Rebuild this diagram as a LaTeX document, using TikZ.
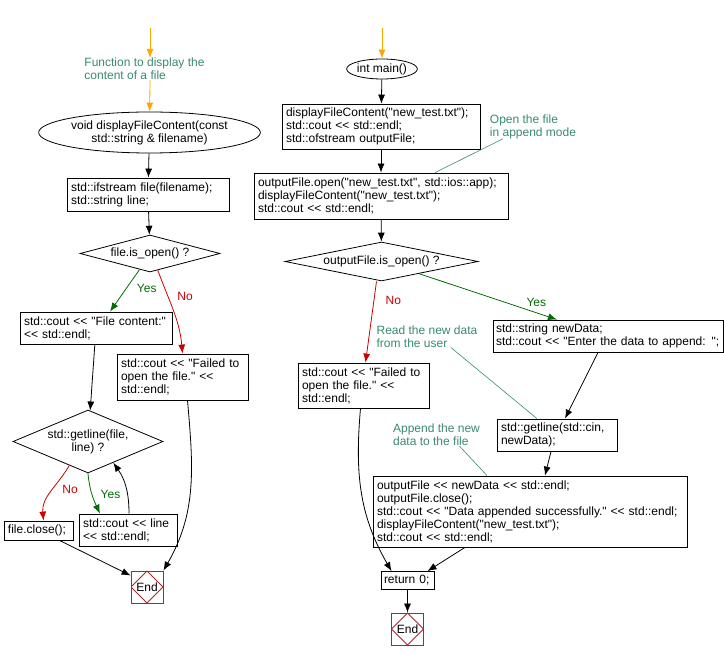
\documentclass[tikz,border=0pt]{standalone}
\usepackage{fontspec}
\newfontfamily\codefont{Liberation Sans}
\usetikzlibrary{shapes.geometric,arrows.meta}
\definecolor{notegreen}{RGB}{58,138,106}
\definecolor{yesgreen}{RGB}{0,110,0}
\definecolor{nored}{RGB}{204,0,0}
\definecolor{endred}{RGB}{165,42,42}
\definecolor{entryorange}{RGB}{255,165,0}

\begin{document}
\begin{tikzpicture}[x=1pt, y=-1pt, font=\codefont\fontsize{12}{13}\selectfont,
    proc/.style={draw, rectangle, line width=0.8pt, align=left, inner xsep=4pt, inner ysep=0pt},
    dec/.style={draw, diamond, line width=0.8pt, align=center, inner sep=0pt},
    term/.style={draw, ellipse, line width=0.8pt, align=center, inner sep=0pt},
    endbox/.style={draw=endred, rectangle, line width=0.8pt, minimum size=32pt, inner sep=0pt,
        path picture={\draw[endred, line width=0.8pt] (path picture bounding box.north) -- (path picture bounding box.east)
            -- (path picture bounding box.south) -- (path picture bounding box.west) -- cycle;}},
    note/.style={text=notegreen, align=left, inner sep=0pt},
    flow/.style={-{Latex[length=9pt,width=7pt]}, line width=0.8pt},
    yes/.style={flow, yesgreen},
    no/.style={flow, nored},
    entry/.style={flow, entryorange},
    noteline/.style={notegreen, line width=0.6pt}]
    \useasboundingbox (0,0) rectangle (724,660);

    % displayFileContent
    \coordinate (s1) at (150,28);
    \node[note] (note1) at (144.5,69) {Function to display the\\content of a file};
    \node[term, minimum width=183pt, minimum height=41pt] (fn) at (149.5,132.5) {void displayFileContent(const\\std::string \& filename)};
    \node[proc, text width=154pt, minimum height=33pt] (init) at (148,194.5) {std::ifstream file(filename);\\std::string line;};
    \node[dec, aspect=3.8, minimum width=140pt, minimum height=37pt] (chk1) at (150,253.5) {file.is\_open() ?};
    \node[proc, text width=144pt, minimum height=32pt] (out1) at (96,328) {std::cout << "File content:"\\<< std::endl;};
    \node[proc, text width=123pt, minimum height=46pt] (fail1) at (182.5,377) {std::cout << "Failed to\\open the file." <<\\std::endl;};
    \node[dec, aspect=2.4, minimum width=150pt, minimum height=63pt] (chk2) at (88,441.5) {std::getline(file,\\line) ?};
    \node[proc, text width=61pt, minimum height=19pt] (close) at (38.5,530.5) {file.close();};
    \node[proc, text width=90pt, minimum height=32pt] (line) at (128,530) {std::cout << line\\<< std::endl;};
    \node[endbox] (end1) at (147,587) {End};

    \draw[entry] (s1) -- (s1 |- note1.north);
    \draw[entry] (s1 |- note1.south) -- (fn);
    \draw[flow] (fn) -- (init);
    \draw[flow] (init) -- (chk1);
    \draw[yes] (chk1.237) -- node[pos=0.45, right=7pt] {Yes} ([xshift=14pt]out1.north);
    \draw[no] (chk1.295) to[out=-70, in=95] node[pos=0.3, right=6pt] {No} (fail1.north);
    \draw[flow] (out1) -- (chk2);
    \draw[no] (chk2.232) to[out=-120, in=95] node[pos=0.45, right=6pt] {No} ([xshift=5pt]close.north);
    \draw[yes] (chk2.south) to[out=-85, in=115] node[pos=0.5, right=5pt] {Yes} ([xshift=-28pt]line.north);
    \draw[flow] ([xshift=1pt]line.north) to[out=90, in=-55] (chk2.-40);
    \draw[flow] ([xshift=-14pt]close.south east) -- (end1.145);
    \draw[flow] ([xshift=5pt]fail1.south) to[out=-85, in=60] (end1.north east);

    % main
    \coordinate (s2) at (382,28);
    \node[term, minimum width=70pt, minimum height=20pt] (main) at (382,69) {int main()};
    \node[proc, text width=190pt, minimum height=45pt] (blk1) at (381,126.5) {displayFileContent("new\_test.txt");\\std::cout << std::endl;\\std::ofstream outputFile;};
    \node[proc, text width=246pt, minimum height=46pt] (blk2) at (381,196) {outputFile.open("new\_test.txt", std::ios::app);\\displayFileContent("new\_test.txt");\\std::cout << std::endl;};
    \node[note] (note2) at (533,126.5) {Open the file\\in append mode};
    \node[dec, aspect=4.9, minimum width=193pt, minimum height=39pt] (chk3) at (381.5,261.5) {outputFile.is\_open() ?};
    \node[proc, text width=123pt, minimum height=45pt] (fail2) at (363.5,385.5) {std::cout << "Failed to\\open the file." <<\\std::endl;};
    \node[proc, inner xsep=3pt, text width=224pt, minimum height=32pt] (read) at (608,336) {std::string newData;\\\mbox{std::cout << "Enter the data to append: ";}};
    \node[note] (note3) at (427,336.5) {Read the new data\\from the user};
    \node[proc, text width=112pt, minimum height=32pt] (getl) at (557,435) {std::getline(std::cin,\\newData);};
    \node[note] (note4) at (436.5,435) {Append the new\\data to the file};
    \node[proc, text width=306pt, minimum height=71pt] (app) at (530,511.5) {outputFile << newData << std::endl;\\outputFile.close();\\std::cout << "Data appended successfully." << std::endl;\\displayFileContent("new\_test.txt");\\std::cout << std::endl;};
    \node[proc, inner xsep=3pt, text width=47pt, minimum height=18pt] (ret) at (407.5,580.5) {\mbox{return 0;}};
    \node[endbox] (end2) at (407.5,629) {End};

    \draw[entry] (s2) -- (main);
    \draw[flow] (main) -- (blk1);
    \draw[flow] (blk1) -- (blk2);
    \draw[noteline] ([xshift=54pt]blk2.north) -- ([xshift=-30pt]note2.south);
    \draw[flow] (blk2) -- (chk3);
    \draw[no] ([xshift=-5pt]chk3.south) -- node[pos=0.23, right=8pt] {No} ([xshift=2pt]fail2.north);
    \draw[yes] (chk3.-18) -- node[pos=0.85, above=2pt] {Yes} ([xshift=-51pt]read.north);
    \draw[noteline] ([xshift=24pt]note3.south) -- ([xshift=-20pt]getl.north);
    \draw[flow] ([xshift=-10pt]read.south) -- ([xshift=8pt]getl.north);
    \draw[noteline] ([xshift=23pt]note4.south) -- ([xshift=-43pt]app.north);
    \draw[flow] ([xshift=-6pt]getl.south) -- ([xshift=15pt]app.north);
    \draw[flow] ([xshift=-65pt]app.south) -- ([xshift=20pt]ret.north);
    \draw[flow] ([xshift=-3pt]fail2.south) to[out=-95, in=120] ([xshift=-16pt]ret.north);
    \draw[flow] (ret) -- (end2);
\end{tikzpicture}
\end{document}
